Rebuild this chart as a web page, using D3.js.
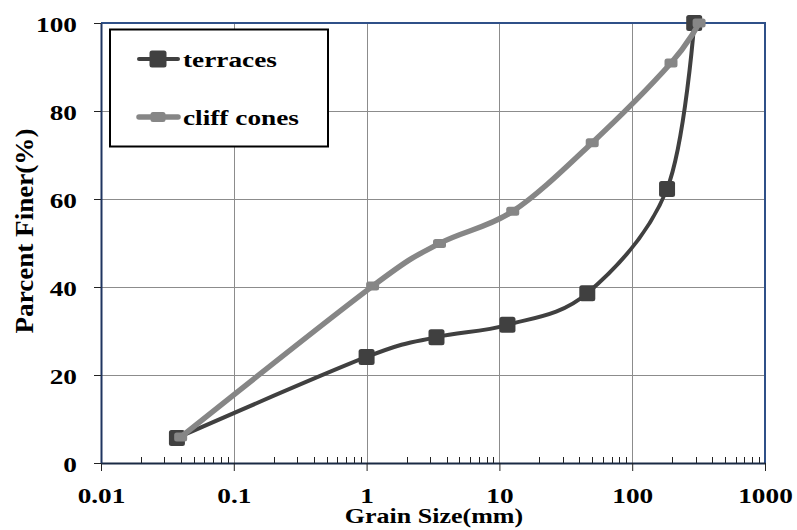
<!DOCTYPE html>
<html>
<head>
<meta charset="utf-8">
<script src="https://cdn.jsdelivr.net/npm/d3@7"></script>
<style>
  html, body { margin: 0; padding: 0; background: #fff; }
  svg { display: block; }
  text { font-family: "Liberation Serif", "Times New Roman", serif; font-weight: bold; fill: #000; }
</style>
</head>
<body>
<svg id="chart" width="797" height="530"></svg>
<script>
// Grain size distribution (semi-log)
const terracesSize   = [0.0373, 1.0, 3.36, 11.5, 45.9, 183, 293];
const terracesFiner  = [5.7, 24.1, 28.6, 31.4, 38.6, 62.3, 100];
const cliffSize      = [0.0398, 1.11, 3.54, 12.6, 50, 196, 319];
const cliffFiner     = [5.9, 40.2, 49.9, 57.2, 72.8, 90.9, 100];
const xTickValues    = [0.01, 0.1, 1, 10, 100, 1000];
const xTickLabels    = ["0.01", "0.1", "1", "10", "100", "1000"];
const yTickValues    = [0, 20, 40, 60, 80, 100];
const seriesNames    = ["terraces", "cliff cones"];

const WIDE = 1.3;   // horizontal stretch applied to horizontal labels
const svg = d3.select("#chart");
const plotL = 101, plotR = 765, plotT = 23, plotB = 463;

const x = d3.scaleLog().domain([0.01, 1000]).range([plotL, plotR]);
const y = d3.scaleLinear().domain([0, 100]).range([plotB, plotT]);

// draws a horizontally stretched label anchored at (px, py)
function wideText(sel, px, py) {
  return sel.attr("transform", `translate(${px},${py}) scale(${WIDE},1)`).attr("x", 0).attr("y", 0);
}

// gridlines
const grid = svg.append("g").attr("stroke", "#8c8c8c").attr("stroke-width", 1);
grid.selectAll(".gx").data(xTickValues.slice(1, -1)).join("line")
  .attr("x1", d => Math.round(x(d)) + 0.5).attr("x2", d => Math.round(x(d)) + 0.5)
  .attr("y1", plotT).attr("y2", plotB);
grid.selectAll(".gy").data(yTickValues.slice(1, -1)).join("line")
  .attr("y1", d => Math.round(y(d)) + 0.5).attr("y2", d => Math.round(y(d)) + 0.5)
  .attr("x1", plotL).attr("x2", plotR);

// plot frame (top/right)
svg.append("path")
  .attr("d", `M${plotL},${plotT}H${plotR}V${plotB}`)
  .attr("fill", "none").attr("stroke", "#2f5088").attr("stroke-width", 2);

// minor ticks on the log axis (inside)
const minor = [];
for (let e = -2; e < 3; e++) for (let m = 2; m <= 9; m++) minor.push(m * Math.pow(10, e));
svg.append("g").attr("stroke", "#222").attr("stroke-width", 1)
  .selectAll("line").data(minor).join("line")
  .attr("x1", d => Math.round(x(d)) + 0.5).attr("x2", d => Math.round(x(d)) + 0.5)
  .attr("y1", plotB).attr("y2", plotB - 6);

// x axis
const xAxis = d3.axisBottom(x).tickValues(xTickValues)
  .tickFormat((d, i) => xTickLabels[i]).tickSize(8).tickPadding(17).tickSizeOuter(0);
const gx = svg.append("g").attr("transform", `translate(0,${plotB})`).call(xAxis);
gx.select(".domain").attr("stroke", "#1a2a44").attr("stroke-width", 2);
gx.selectAll(".tick line").attr("stroke", "#222");
gx.selectAll("text").attr("font-size", 21).attr("font-family", "Liberation Serif")
  .attr("font-weight", "bold").attr("fill", "#000")
  .each(function () { wideText(d3.select(this), 0, 25); });

// y axis
const yAxis = d3.axisLeft(y).tickValues(yTickValues).tickSize(7).tickPadding(17).tickSizeOuter(0);
const gy = svg.append("g").attr("transform", `translate(${plotL},0)`).call(yAxis);
gy.select(".domain").attr("stroke", "#1f3560").attr("stroke-width", 2);
gy.selectAll(".tick line").attr("stroke", "#222");
gy.selectAll("text").attr("font-size", 21).attr("font-family", "Liberation Serif")
  .attr("font-weight", "bold").attr("fill", "#000").attr("dy", "0.4em")
  .each(function () { wideText(d3.select(this), -24, 0); });

// axis titles
wideText(svg.append("text").attr("text-anchor", "middle").attr("font-size", 20)
  .text("Grain Size(mm)"), 434, 523);
svg.append("text").attr("transform", "translate(33,231) rotate(-90)")
  .attr("text-anchor", "middle").attr("font-size", 26)
  .attr("textLength", 205).attr("lengthAdjust", "spacingAndGlyphs")
  .text("Parcent Finer(%)");

const line = d3.line().x(d => x(d[0])).y(d => y(d[1])).curve(d3.curveCatmullRom.alpha(0));

const terraces = terracesSize.map((s, i) => [s, terracesFiner[i]]);
const cliff = cliffSize.map((s, i) => [s, cliffFiner[i]]);

// terraces series
svg.append("path").datum(terraces).attr("d", line)
  .attr("fill", "none").attr("stroke", "#404040").attr("stroke-width", 4);
svg.append("g").selectAll("rect").data(terraces).join("rect")
  .attr("x", d => x(d[0]) - 8).attr("y", d => y(d[1]) - 8)
  .attr("width", 16).attr("height", 16).attr("rx", 2.5)
  .attr("fill", "#404040");

// cliff cones series
svg.append("path").datum(cliff).attr("d", line)
  .attr("fill", "none").attr("stroke", "#868686").attr("stroke-width", 5.5);
svg.append("g").selectAll("rect").data(cliff).join("rect")
  .attr("x", d => x(d[0]) - 6.5).attr("y", d => y(d[1]) - 4.5)
  .attr("width", 13).attr("height", 9).attr("rx", 2.5)
  .attr("fill", "#868686");

// legend
const lg = svg.append("g");
lg.append("rect").attr("x", 110).attr("y", 29.5).attr("width", 218).attr("height", 117)
  .attr("fill", "#fff").attr("stroke", "#000").attr("stroke-width", 2);
const legendRows = [
  { name: seriesNames[0], color: "#404040", w: 4, mw: 17, mh: 17, cy: 59, ty: 67 },
  { name: seriesNames[1], color: "#868686", w: 5.5, mw: 15, mh: 10, cy: 117, ty: 125 }
];
legendRows.forEach(r => {
  lg.append("line").attr("x1", 139).attr("x2", 178).attr("y1", r.cy).attr("y2", r.cy)
    .attr("stroke", r.color).attr("stroke-width", r.w).attr("stroke-linecap", "round");
  lg.append("rect").attr("x", 158 - r.mw / 2).attr("y", r.cy - r.mh / 2)
    .attr("width", r.mw).attr("height", r.mh).attr("rx", 2.5).attr("fill", r.color);
  wideText(lg.append("text").attr("font-size", 21).text(r.name), 183, r.ty);
});
</script>
</body>
</html>
